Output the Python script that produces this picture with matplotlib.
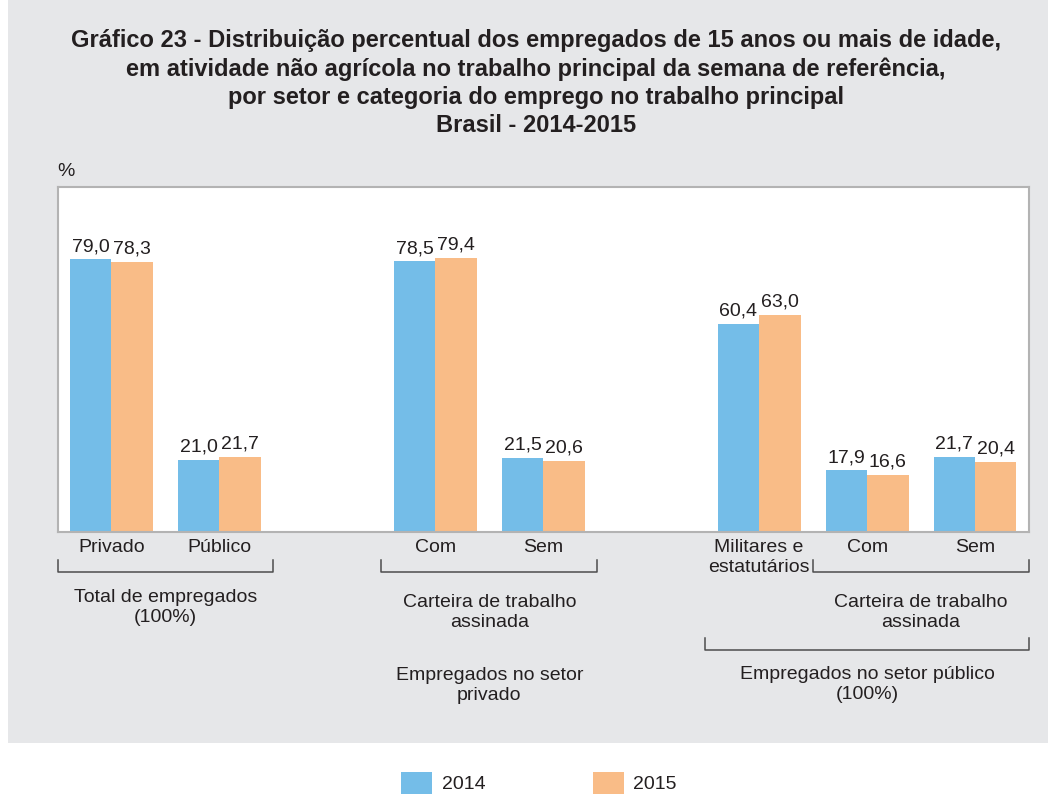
import matplotlib
matplotlib.use('Agg')
import matplotlib.pyplot as plt
from matplotlib.patches import Rectangle
from matplotlib.transforms import blended_transform_factory

plt.rcParams['font.family'] = ['Liberation Sans', 'DejaVu Sans']

# dados
categorias = ['Privado', 'Público', 'Com', 'Sem', 'Militares e\nestatutários', 'Com', 'Sem']
posicoes = [0, 1, 3, 4, 6, 7, 8]
valores_2014 = [79.0, 21.0, 78.5, 21.5, 60.4, 17.9, 21.7]
valores_2015 = [78.3, 21.7, 79.4, 20.6, 63.0, 16.6, 20.4]
anos = ['2014', '2015']

titulo = ('Gráfico 23 - Distribuição percentual dos empregados de 15 anos ou mais de idade,\n'
          'em atividade não agrícola no trabalho principal da semana de referência,\n'
          'por setor e categoria do emprego no trabalho principal\n'
          'Brasil - 2014-2015')

azul = '#74bde8'
laranja = '#f9bc87'
cinza_fundo = '#e6e7e9'
cor_texto = '#231f20'
W, H = 1048, 796
fs = 14

fig = plt.figure(figsize=(W / 100, H / 100), dpi=100)
fig.patch.set_facecolor('white')
fig.add_artist(Rectangle((8 / W, 1 - 743 / H), 1, 743 / H, transform=fig.transFigure,
                         facecolor=cinza_fundo, edgecolor='none', zorder=0))

ax = fig.add_axes([57.5 / W, 1 - 532 / H, (1029 - 57.5) / W, (532 - 187) / H])
ax.set_facecolor('white')
largura = 0.384
b1 = ax.bar([p - largura / 2 for p in posicoes], valores_2014, largura, color=azul, label=anos[0])
b2 = ax.bar([p + largura / 2 for p in posicoes], valores_2015, largura, color=laranja, label=anos[1])
for barras, vals in ((b1, valores_2014), (b2, valores_2015)):
    ax.bar_label(barras, labels=[f'{v:.1f}'.replace('.', ',') for v in vals],
                 padding=3, fontsize=fs, color=cor_texto)

ax.set_xlim(-0.5, 8.5)
ax.set_ylim(0, 100)
ax.set_yticks([])
ax.set_xticks([])
for s in ax.spines.values():
    s.set_color('#b3b3b3')
    s.set_linewidth(1.5)

def py(y):
    return 1 - y / H

# rótulos das categorias
tr = blended_transform_factory(ax.transData, fig.transFigure)
for p, c in zip(posicoes, categorias):
    ax.text(p, py(539), c, transform=tr, ha='center', va='top', fontsize=fs,
            color=cor_texto, linespacing=1.25)

# chaves
def chave(x0, x1, y, alt=12):
    ax.plot([x0, x0, x1, x1], [py(y - alt), py(y), py(y), py(y - alt)], transform=tr,
            color='#4d4d4d', lw=1.1, clip_on=False)

chave(-0.5, 1.5, 572)
chave(2.5, 4.5, 572)
chave(6.5, 8.5, 572)
chave(5.5, 8.5, 650)

def nota(x, y, s):
    ax.text(x, py(y), s, transform=tr, ha='center', va='top',
            fontsize=fs, color=cor_texto, linespacing=1.25)

nota(0.5, 589, 'Total de empregados\n(100%)')
nota(3.5, 594, 'Carteira de trabalho\nassinada')
nota(3.5, 667, 'Empregados no setor\nprivado')
nota(7.5, 594, 'Carteira de trabalho\nassinada')
nota(7.0, 666, 'Empregados no setor público\n(100%)')

fig.text(57 / W, py(172), '%', ha='left', va='center', fontsize=fs, color=cor_texto)
fig.text(536 / W, py(29), titulo, ha='center', va='top', fontsize=17, fontweight='bold',
         color=cor_texto, linespacing=1.29)

fig.legend(handles=[b1, b2], labels=anos, loc='center', bbox_to_anchor=(539 / W, py(783)),
           ncol=2, frameon=False, fontsize=fs, handlelength=1.6, handleheight=1.44,
           handletextpad=0.5, columnspacing=5.5, labelcolor=cor_texto)

fig.savefig('out.png', dpi=100)
